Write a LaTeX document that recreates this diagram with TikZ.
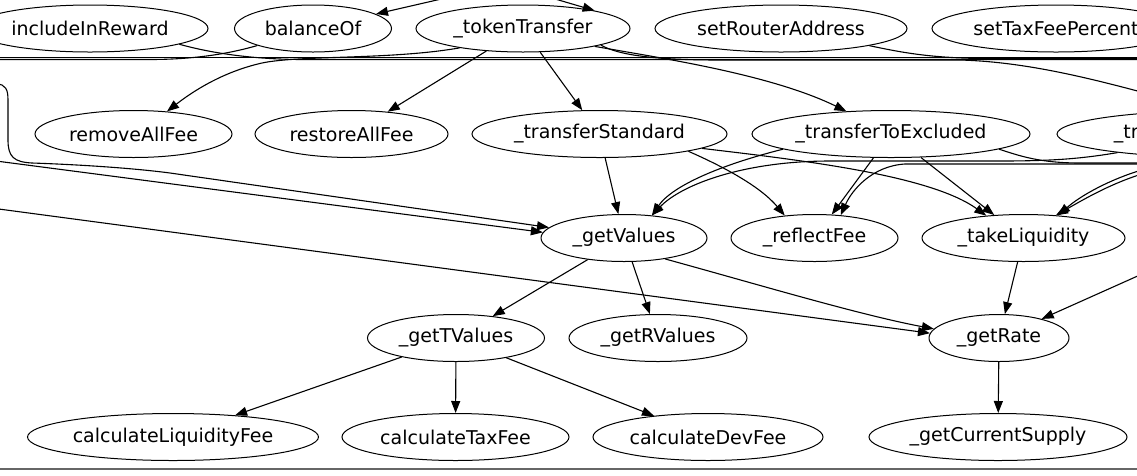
\documentclass[tikz,border=0pt]{standalone}
\usepackage{fontspec}
\setmainfont{DejaVu Sans}
\usetikzlibrary{shapes.geometric,arrows.meta}
\begin{document}
\begin{tikzpicture}[x=1pt,y=-1pt,
  fn/.style={ellipse,draw,line width=1pt,inner sep=0pt,minimum height=47pt,
             font=\fontsize{19}{22}\selectfont},
  call/.style={line width=1.1pt,-{Triangle[length=12pt,width=9pt]}},
  wire/.style={line width=1.1pt}]
\useasboundingbox (0,0) rectangle (1137,475);
\clip (0,0) rectangle (1137,475);

% row 1
\node[fn,minimum width=236pt] (includeInReward)  at (90,28.5)   {includeInReward};
\node[fn,minimum width=157pt] (balanceOf)        at (313,28.5)  {balanceOf};
\node[fn,minimum width=214pt] (tokenTransfer)    at (523,28.5)  {\_tokenTransfer};
\node[fn,minimum width=252pt] (setRouterAddress) at (781,28.5)  {setRouterAddress};
\node[fn,minimum width=248pt] (setTaxFeePercent) at (1056,28.5) {setTaxFeePercent};
% row 2
\node[fn,minimum width=197pt] (removeAllFee)         at (133.5,134) {removeAllFee};
\node[fn,minimum width=193pt] (restoreAllFee)        at (351.5,134) {restoreAllFee};
\node[fn,minimum width=255pt] (transferStandard)     at (599.5,134) {\_transferStandard};
\node[fn,minimum width=278pt] (transferToExcluded)   at (891,134)   {\_transferToExcluded};
\node[fn,minimum width=332pt] (transferFromExcluded) at (1223,134)  {\_transferFromExcluded};
% row 3
\node[fn,minimum width=166pt] (getValues)     at (624,238)    {\_getValues};
\node[fn,minimum width=167pt] (reflectFee)    at (814.5,238)  {\_reflectFee};
\node[fn,minimum width=203pt] (takeLiquidity) at (1023.5,238) {\_takeLiquidity};
% row 4
\node[fn,minimum width=177pt] (getTValues) at (456,338) {\_getTValues};
\node[fn,minimum width=178pt] (getRValues) at (658,338) {\_getRValues};
\node[fn,minimum width=140pt] (getRate)    at (999,338) {\_getRate};
% row 5
\node[fn,minimum width=291pt] (calculateLiquidityFee) at (173,437)   {calculateLiquidityFee};
\node[fn,minimum width=227pt] (calculateTaxFee)       at (455.5,437) {calculateTaxFee};
\node[fn,minimum width=230pt] (calculateDevFee)       at (708,437)   {calculateDevFee};
\node[fn,minimum width=258pt] (getCurrentSupply)      at (998,437)   {\_getCurrentSupply};

% loose ends of calls that come from or go to functions outside the frame
\coordinate (topA)   at (450,-3);
\coordinate (topB)   at (545,-4);
\coordinate (bandL1) at (-5,57.5);
\coordinate (bandR1) at (1145,57.5);
\coordinate (bandL2) at (-5,59.5);
\coordinate (bandR2) at (1145,59.5);
\coordinate (bandR3) at (1145,58.5);
\coordinate (leftA)  at (-4,161);
\coordinate (leftB)  at (-4,84);
\coordinate (leftC)  at (-5,208.5);
\coordinate (rightA) at (1145,164);
\coordinate (rightB) at (1145,169);
\coordinate (rightC) at (1145,173);
\coordinate (rightD) at (1145,163);
\coordinate (rightE) at (1160,266);

% calls entering row 1 from above
\draw[call] (topA) -- (balanceOf);
\draw[call] (topB) -- (tokenTransfer.14);

% horizontal bundle under row 1
\draw[wire] (bandL1) -- (bandR1);
\draw[wire] (balanceOf.197) .. controls (235,52) and (200,59.5) .. (150,59.5) -- (bandL2);
\draw[wire] (includeInReward.-10) .. controls (200,50) and (240,59) .. (300,59.5) -- (bandR2);
\draw[wire] (setRouterAddress.-11) .. controls (900,52) and (930,58.5) .. (990,58.5) -- (bandR3);

% _tokenTransfer
\draw[call] (tokenTransfer.197) .. controls (390,60) and (300,55) .. (262,63)
            .. controls (222,72) and (192,92) .. (removeAllFee.34);
\draw[call] (tokenTransfer) -- (restoreAllFee);
\draw[call] (tokenTransfer) -- (transferStandard);
\draw[call] (tokenTransfer.-14) .. controls (660,58) and (770,74) .. (transferToExcluded.153);
\draw[call] (tokenTransfer.-12) .. controls (620,56) and (660,60) .. (720,60) -- (960,60)
            .. controls (1030,62) and (1100,80) .. (transferFromExcluded.125);

% _transferStandard
\draw[call] (transferStandard) -- (getValues);
\draw[call] (transferStandard.-11.5) .. controls (722,166) and (760,186) .. (reflectFee.143);
\draw[call] (transferStandard.-8) .. controls (800,160) and (930,175) .. (takeLiquidity.149);

% _transferToExcluded
\draw[call] (transferToExcluded.188) .. controls (720,165) and (672,186) .. (getValues.39);
\draw[call] (transferToExcluded) -- (reflectFee);
\draw[call] (transferToExcluded) -- (takeLiquidity);
\draw[wire] (transferToExcluded.-8) .. controls (1020,156) and (1040,163) .. (1080,163) -- (rightD);

% calls coming in from the right
\draw[call] (transferFromExcluded.190) .. controls (1080,159) and (1050,161) .. (1000,161) -- (830,161)
            .. controls (745,161) and (682,184) .. (getValues.39);
\draw[call] (rightA) -- (905,164) .. controls (872,166) and (852,190) .. (reflectFee.41);
\draw[call] (rightB) .. controls (1110,179) and (1080,196) .. (takeLiquidity.33);
\draw[call] (rightC) .. controls (1112,183) and (1086,198) .. (takeLiquidity.35);
\draw[call] (rightE) -- (getRate);

% calls coming in from the left
\draw[call] (leftA) -- (getValues.176);
\draw[call] (leftB) .. controls (6,84) and (8,90) .. (8,100) -- (8,140)
            .. controls (8,157) and (14,162) .. (32,163)
            .. controls (90,165) and (140,169) .. (170,173) -- (getValues.172);
\draw[call] (leftC) -- (getRate.176);

% _getValues
\draw[call] (getValues) -- (getTValues);
\draw[call] (getValues) -- (getRValues);
\draw[call] (getValues.-27) .. controls (760,285) and (860,315) .. (getRate.172);

% _takeLiquidity / _getRate
\draw[call] (takeLiquidity) -- (getRate);
\draw[call] (getRate) -- (getCurrentSupply);

% _getTValues
\draw[call] (getTValues) -- (calculateLiquidityFee);
\draw[call] (getTValues) -- (calculateTaxFee);
\draw[call] (getTValues) -- (calculateDevFee);

% bottom rule
\draw[black!60,line width=2.5pt] (0,469) -- (1137,469);
\end{tikzpicture}
\end{document}
